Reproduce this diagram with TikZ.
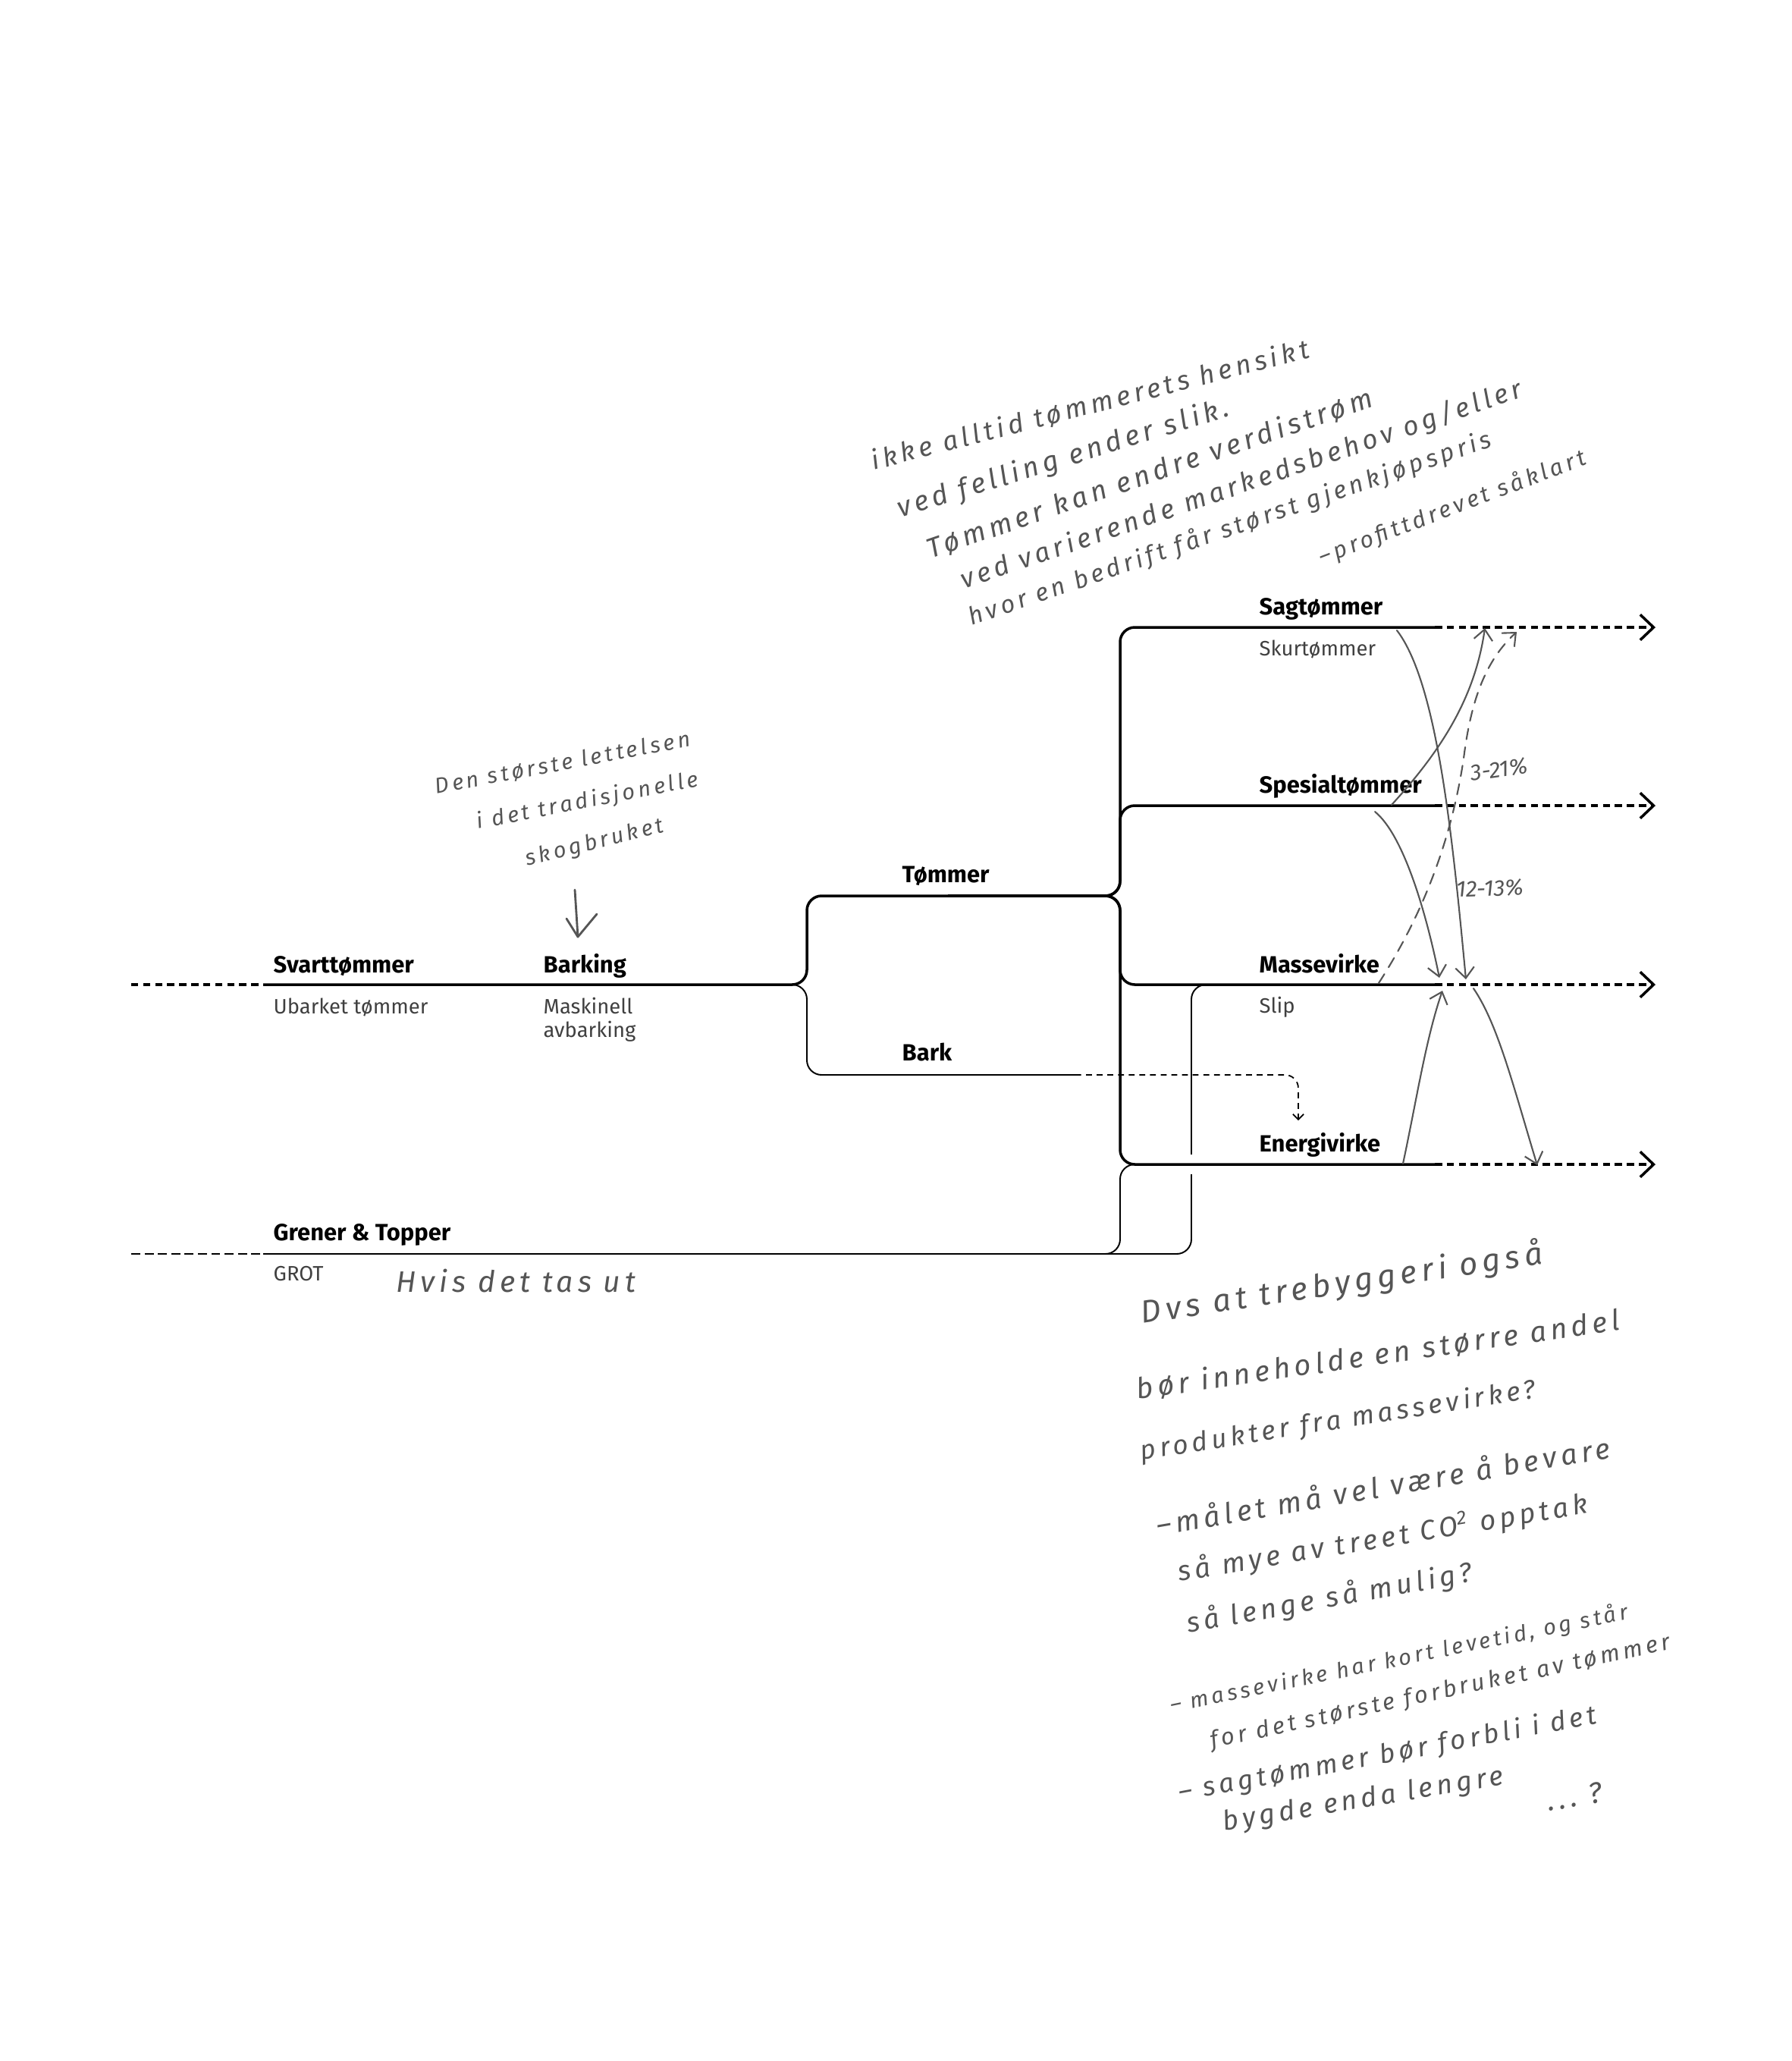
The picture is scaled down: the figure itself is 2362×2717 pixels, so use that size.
\documentclass[tikz,border=0pt]{standalone}
\usepackage{fontspec}
\setmainfont{Fira Sans}
\newfontfamily\handfont{Fira Sans}[LetterSpace=15]
\usetikzlibrary{arrows.meta}

\definecolor{pencil}{HTML}{555555}
\definecolor{subgrey}{HTML}{404040}
\newcommand{\hw}[1]{\handfont\fontsize{#1pt}{#1pt}\selectfont\itshape}

\begin{document}
\begin{tikzpicture}[x=0.01cm,y=-0.01cm,
    flow/.style={line width=1pt,rounded corners=5.5pt},
    branch/.style={line width=0.55pt,rounded corners=5.5pt},
    inlet/.style={line width=1pt,dash pattern=on 2.7pt off 1.8pt},
    outlet/.style={line width=1pt,dash pattern=on 2.7pt off 1.8pt,-{Straight Barb[length=5pt,width=9.5pt]}},
    title/.style={inner sep=0pt,anchor=base west,font=\fontsize{8.8pt}{11pt}\selectfont\bfseries},
    sub/.style={inner sep=0pt,anchor=base west,text=subgrey,font=\fontsize{7.8pt}{9.5pt}\selectfont},
    hand/.style={inner sep=0pt,anchor=base west,text=pencil},
    sketch/.style={draw=pencil,line width=0.6pt,line cap=round,line join=round},
    tip/.style={-{Straight Barb[length=4pt,width=7pt]}}]
  \useasboundingbox (0,0) rectangle (2362,2717);

  \coordinate (inS) at (173,1298);
  \coordinate (S) at (347,1298);
  \coordinate (brA) at (1064,1298);
  \coordinate (tomA) at (1064,1181);
  \coordinate (tomM) at (1250,1181);
  \coordinate (tomB) at (1477,1181);
  \coordinate (barkA) at (1064,1417);
  \coordinate (barkB) at (1418,1417);
  \coordinate (barkC) at (1712,1417);
  \coordinate (barkD) at (1712,1477);
  \coordinate (sagA) at (1477,827);
  \coordinate (sagB) at (1892,827);
  \coordinate (sagC) at (2183,827);
  \coordinate (speA) at (1477,1062);
  \coordinate (speB) at (1892,1062);
  \coordinate (speC) at (2183,1062);
  \coordinate (masA) at (1477,1298);
  \coordinate (masB) at (1892,1298);
  \coordinate (masC) at (2183,1298);
  \coordinate (eneA) at (1477,1535);
  \coordinate (eneB) at (1892,1535);
  \coordinate (eneC) at (2183,1535);
  \coordinate (inG) at (173,1653);
  \coordinate (G) at (347,1653);
  \coordinate (grA) at (1477,1653);
  \coordinate (slA) at (1571,1653);
  \coordinate (slB) at (1571,1298);

  \draw[branch] (G) -- (grA) -- (eneA) -- (eneB);
  \draw[branch] (G) -- (slA) -- (slB) -- (masB);
  \fill[white] (1563,1522) rectangle (1579,1548);
  \draw[line width=0.55pt,dash pattern=on 3.4pt off 1.6pt] (inG) -- (G);

  \draw[flow] (S) -- (brA) -- (tomA) -- (tomB) -- (sagA) -- (sagB);
  \draw[flow] (tomM) -- (tomB) -- (speA) -- (speB);
  \draw[flow] (tomM) -- (tomB) -- (masA) -- (masB);
  \draw[flow] (tomM) -- (tomB) -- (eneA) -- (eneB);
  \draw[branch] (S) -- (brA) -- (barkA) -- (barkB);
  \draw[line width=0.5pt,rounded corners=5pt,dash pattern=on 2.2pt off 1.8pt,-{Straight Barb[length=2pt,width=4pt]}] (barkB) -- (barkC) -- (barkD);

  \draw[inlet] (inS) -- (S);
  \draw[outlet] (sagB) -- (sagC);
  \draw[outlet] (speB) -- (speC);
  \draw[outlet] (masB) -- (masC);
  \draw[outlet] (eneB) -- (eneC);

  \node[title] (svart) at (360,1282) {Svarttømmer};
  \node[sub] (ubark) at (360,1336) {Ubarket tømmer};
  \node[title] (barking) at (716,1282) {Barking};
  \node[sub] (mask) at (716,1336) {Maskinell};
  \node[sub] (avbark) at (716,1367) {avbarking};
  \node[title] (tommer) at (1189,1163) {Tømmer};
  \node[title] (bark) at (1189,1398) {Bark};
  \node[title] (sag) at (1660,810) {Sagtømmer};
  \node[sub] (skur) at (1660,864) {Skurtømmer};
  \node[title] (spes) at (1660,1045) {Spesialtømmer};
  \node[title] (masse) at (1660,1282) {Massevirke};
  \node[sub] (slip) at (1660,1335) {Slip};
  \node[title] (energi) at (1660,1518) {Energivirke};
  \node[title] (grener) at (360,1635) {Grener \& Topper};
  \node[sub] (grot) at (360,1688) {GROT};

  \draw[sketch,tip] (1842,831) .. controls (1895,900) and (1915,1100) .. (1933,1291);
  \draw[sketch,tip] (1835,1061) .. controls (1900,990) and (1945,920) .. (1958,828);
  \draw[sketch,tip,dash pattern=on 4pt off 3pt] (1818,1296) .. controls (1880,1200) and (1915,1100) .. (1930,1000) .. controls (1940,920) and (1960,870) .. (2000,833);
  \draw[sketch,tip] (1813,1070) .. controls (1850,1100) and (1880,1200) .. (1898,1289);
  \draw[sketch,tip] (1850,1534) .. controls (1868,1450) and (1880,1370) .. (1902,1306);
  \draw[sketch,tip] (1943,1303) .. controls (1975,1350) and (1995,1430) .. (2027,1536);
  \node[hand,font=\itshape\fontsize{8.5pt}{9pt}\selectfont,rotate=2] (pctA) at (1920,1183) {12-13\%};
  \node[hand,font=\itshape\fontsize{8.5pt}{9pt}\selectfont,rotate=8] (pctB) at (1940,1030) {3-21\%};

  \node[hand,font=\hw{10},rotate=14.5] (n1a) at (1152,620) {ikke alltid tømmerets hensikt};
  \node[hand,font=\hw{10.4},rotate=17.2] (n1b) at (1187,683) {ved felling ender slik.};
  \node[hand,font=\hw{10.4},rotate=19] (n1c) at (1227,737) {Tømmer kan endre verdistrøm};
  \node[hand,font=\hw{10},rotate=19] (n1d) at (1271,777) {ved varierende markedsbehov og/eller};
  \node[hand,font=\hw{9.2},rotate=19] (n1e) at (1281,825) {hvor en bedrift får størst gjenkjøpspris};
  \node[hand,font=\hw{8.6},rotate=20.8] (n1f) at (1743,745) {–profittdrevet såklart};

  \node[hand,font=\hw{8.2},rotate=10.7] (n2a) at (575,1047) {Den største lettelsen};
  \node[hand,font=\hw{8.2},rotate=11] (n2b) at (630,1093) {i det tradisjonelle};
  \node[hand,font=\hw{8.2},rotate=14] (n2c) at (695,1142) {skogbruket};
  \draw[sketch,line width=0.8pt] (758,1173) -- (762,1235);
  \draw[sketch,line width=0.8pt] (747,1211) -- (762,1235) -- (787,1205);

  \node[hand,font=\hw{11.1}] (n3) at (522,1703) {Hvis det tas ut};

  \node[hand,font=\hw{11.9},rotate=8.5] (n4a) at (1506,1745) {Dvs at trebyggeri også};
  \node[hand,font=\hw{10.8},rotate=8.2] (n4b) at (1500,1845) {bør inneholde en større andel};
  \node[hand,font=\hw{10},rotate=9] (n4c) at (1505,1925) {produkter fra massevirke?};
  \node[hand,font=\hw{10.8},rotate=9.8] (n4d) at (1527,2025) {–målet må vel være å bevare};
  \node[hand,font=\hw{10.4},rotate=9.5] (n4e) at (1555,2085) {så mye av treet CO\textsuperscript{2} opptak};
  \node[hand,font=\hw{10.4},rotate=10.3] (n4f) at (1567,2153) {så lenge så mulig?};
  \node[hand,font=\hw{8.2},rotate=11.6] (n4g) at (1545,2258) {– massevirke har kort levetid, og står};
  \node[hand,font=\hw{8.7},rotate=12.2] (n4h) at (1598,2305) {for det største forbruket av tømmer};
  \node[hand,font=\hw{10},rotate=10.6] (n4i) at (1556,2375) {– sagtømmer bør forbli i det};
  \node[hand,font=\hw{10.2},rotate=9.5] (n4j) at (1614,2414) {bygde enda lengre};
  \node[hand,font=\hw{11},rotate=10] (n4k) at (2042,2388) {...\ ?};
\end{tikzpicture}
\end{document}
